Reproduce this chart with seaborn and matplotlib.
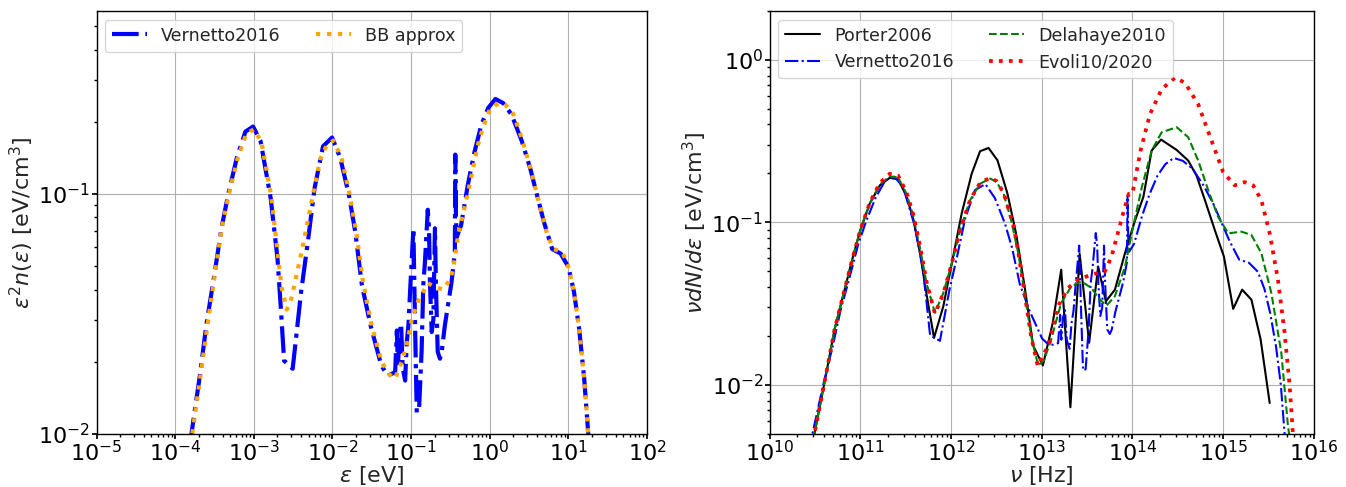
import numpy as np
import pandas as pd
import matplotlib
matplotlib.use("Agg")
import matplotlib.pyplot as plt
import seaborn as sns

# Planck constant [eV s], used to express photon energies as frequencies
H_EV_S = 4.135667696e-15

# ---- Interstellar radiation field, energy density vs photon energy ----
vernetto_eps = [1.12e-4, 1.61e-4, 2.06e-4, 2.51e-4, 3.05e-4, 3.91e-4, 4.77e-4, 6.10e-4,
                7.82e-4, 9.8e-4, 1.22e-3, 1.64e-3, 2.0e-3, 2.2e-3, 2.43e-3, 3.12e-3,
                3.44e-3, 3.99e-3, 4.86e-3, 5.93e-3, 7.59e-3, 9.9e-3, 1.26e-2, 1.62e-2,
                1.95e-2, 2.37e-2, 3.05e-2, 4.18e-2, 5.05e-2, 0.0627, 0.066, 0.068,
                0.071, 0.0747, 0.078, 0.084, 0.088, 0.0925, 0.097, 0.107, 0.112, 0.118,
                0.126, 0.136, 0.143, 0.150, 0.163, 0.169, 0.174, 0.183, 0.192, 0.201,
                0.207, 0.218, 0.233, 0.245, 0.269, 0.327, 0.360, 0.365, 0.372, 0.380,
                0.432, 0.526, 0.641, 0.782, 0.953, 1.18, 1.49, 1.90, 2.56, 3.27, 3.99,
                4.86, 6.22, 7.96, 10.0, 11.8, 13.7, 15.9, 17.9, 20.0]
vernetto_val = [0.0040, 0.0100, 0.0175, 0.029, 0.043, 0.073, 0.101, 0.142,
                0.182, 0.191, 0.166, 0.096, 0.054, 0.034, 0.0202, 0.0187,
                0.025, 0.039, 0.063, 0.106, 0.158, 0.172, 0.141, 0.099,
                0.0696, 0.0417, 0.0284, 0.0193, 0.0175, 0.0181, 0.027, 0.019,
                0.026, 0.0288, 0.019, 0.0167, 0.024, 0.0284, 0.039, 0.072, 0.030, 0.0123,
                0.0125, 0.022, 0.042, 0.052, 0.086, 0.072, 0.042, 0.0266, 0.030, 0.072,
                0.042, 0.022, 0.0206, 0.022, 0.0284, 0.043, 0.057, 0.146, 0.079, 0.066,
                0.074, 0.109, 0.150, 0.194, 0.228, 0.249, 0.239, 0.214, 0.166, 0.128, 0.099,
                0.077, 0.059, 0.0565, 0.0497, 0.039, 0.0275, 0.017, 0.010, 0.0045]

bb_eps = [1.12e-4, 1.65e-4, 2.1e-4, 2.6e-4, 3.1e-4, 3.9e-4, 4.8e-4, 6.2e-4, 8.0e-4,
          1.0e-3, 1.25e-3, 1.65e-3, 2.0e-3, 2.25e-3, 2.63e-3, 2.9e-3, 3.5e-3, 4.3e-3,
          5.5e-3, 7.0e-3, 8.5e-3, 1.03e-2, 1.3e-2, 1.65e-2, 2.0e-2, 2.45e-2, 3.1e-2,
          4.2e-2, 5.2e-2, 6.26e-2, 7.6e-2, 8.8e-2, 0.102, 0.124, 0.163, 0.201, 0.256,
          0.312, 0.344, 0.397, 0.532, 0.711, 0.817, 1.0, 1.32, 1.58, 2.0, 2.57, 3.3,
          4.0, 5.37, 6.53, 8.38, 10.0, 11.8, 13.7, 15.9, 17.9, 20.0]
bb_val = [0.0040, 0.0100, 0.0175, 0.029, 0.043, 0.072, 0.099, 0.140, 0.178,
          0.186, 0.165, 0.100, 0.058, 0.041, 0.033, 0.035, 0.046, 0.063,
          0.095, 0.140, 0.160, 0.167, 0.142, 0.100, 0.070, 0.043, 0.029,
          0.020, 0.0178, 0.0170, 0.020, 0.0234, 0.030, 0.036, 0.0425, 0.041, 0.040,
          0.044, 0.049, 0.0676, 0.1026, 0.161, 0.188, 0.225, 0.240, 0.236, 0.215, 0.170, 0.128,
          0.099, 0.068, 0.0589, 0.0574, 0.0497, 0.039, 0.0275, 0.017, 0.010, 0.0045]

# ---- Models compared as a function of frequency ----
porter_nu = [2.82e10, 3.12e10, 4.03e10, 5.20e10, 6.71e10, 8.30e10, 1.0e11, 1.27e11,
             1.64e11, 2.11e11, 2.61e11, 3.23e11, 3.83e11, 4.54e11, 5.38e11, 6.49e11,
             8.22e11, 1.02e12, 1.31e12, 1.69e12, 2.09e12, 2.59e12, 3.25e12, 4.18e12,
             5.20e12, 6.46e12, 8.04e12, 1.03e13, 1.32e13, 1.64e13, 2.07e13, 2.62e13,
             3.33e13, 4.19e13, 5.09e13, 6.41e13, 8.67e13, 1.07e14, 1.32e14, 1.63e14,
             2.07e14, 3.07e14, 4.12e14, 5.09e14, 6.30e14, 8.09e14, 1.02e15, 1.29e15,
             1.62e15, 2.05e15, 2.59e15, 3.26e15]
porter_val = [0.0040, 0.00502, 0.0104, 0.022, 0.0386, 0.0617, 0.0898, 0.1306,
              0.169, 0.188, 0.184, 0.145, 0.105, 0.065, 0.036, 0.0195,
              0.0305, 0.056, 0.1135, 0.1995, 0.274, 0.287, 0.241, 0.151,
              0.086, 0.0407, 0.0175, 0.0132, 0.024, 0.0512, 0.0073, 0.064,
              0.0182, 0.0536, 0.0327, 0.0386, 0.071, 0.103, 0.1435, 0.277,
              0.323, 0.279, 0.240, 0.194, 0.137, 0.0898, 0.0617, 0.0294,
              0.0386, 0.0335, 0.0191, 0.00776]

delahaye_nu = [2.82e10, 3.12e10, 4.03e10, 5.20e10, 6.71e10, 8.30e10, 1.0e11, 1.27e11,
               1.64e11, 2.11e11, 2.61e11, 3.23e11, 3.83e11, 4.54e11, 5.38e11, 6.65e11,
               8.22e11, 1.02e12, 1.26e12, 1.62e12, 2.09e12, 2.70e12, 3.16e12, 3.80e12,
               4.57e12, 5.50e12, 6.46e12, 7.62e12, 9.12e12, 1.06e13, 1.27e13, 1.64e13,
               2.12e13, 2.74e13, 3.53e13, 4.38e13, 5.19e13, 6.41e13, 8.30e13, 1.0e14,
               1.27e14, 1.63e14, 2.10e14, 3.07e14, 4.12e14, 5.31e14, 6.84e14, 8.81e14,
               1.14e15, 1.59e15, 2.05e15, 2.64e15, 3.40e15, 4.38e15, 5.18e15, 5.62e15]
delahaye_val = [0.0040, 0.00502, 0.0104, 0.022, 0.0386, 0.0617, 0.0898, 0.131,
                0.171, 0.192, 0.189, 0.150, 0.110, 0.070, 0.042, 0.0278,
                0.0368, 0.056, 0.0898, 0.137, 0.173, 0.186, 0.178, 0.150,
                0.105, 0.065, 0.037, 0.0202, 0.0132, 0.0142, 0.0191, 0.032,
                0.0404, 0.0434, 0.0395, 0.0335, 0.0308, 0.0352, 0.0536, 0.0898,
                0.165, 0.277, 0.358, 0.385, 0.334, 0.240, 0.158, 0.108,
                0.0857, 0.0877, 0.0837, 0.0647, 0.0368, 0.0158, 0.00565, 0.0040]

evoli_nu = [2.82e10, 3.12e10, 4.03e10, 5.20e10, 6.71e10, 8.30e10, 1.0e11, 1.27e11,
            1.64e11, 2.11e11, 2.61e11, 3.23e11, 3.83e11, 4.54e11, 5.38e11, 6.65e11,
            8.22e11, 1.02e12, 1.26e12, 1.62e12, 2.09e12, 2.70e12, 3.16e12, 3.80e12,
            4.90e12, 5.50e12, 6.46e12, 7.62e12, 9.04e12, 1.22e13, 1.51e13, 1.95e13,
            2.51e13, 3.53e13, 4.97e13, 5.89e13, 7.94e13, 9.12e13, 1.0e14, 1.23e14,
            1.56e14, 2.10e14, 2.94e14, 3.79e14, 5.31e14, 7.45e14, 1.0e15, 1.34e15,
            1.73e15, 2.14e15, 2.64e15, 3.26e15, 4.02e15, 4.76e15, 5.41e15, 5.87e15, 6.17e15]
evoli_val = [0.0040, 0.00502, 0.0104, 0.022, 0.0386, 0.0617, 0.0898, 0.132,
             0.175, 0.199, 0.194, 0.153, 0.112, 0.072, 0.043, 0.0275,
             0.0365, 0.056, 0.0898, 0.137, 0.175, 0.188, 0.180, 0.152,
             0.095, 0.066, 0.037, 0.020, 0.0131, 0.0182, 0.0305, 0.0395,
             0.0445, 0.0477, 0.050, 0.0617, 0.115, 0.15, 0.15, 0.277,
             0.463, 0.659, 0.776, 0.723, 0.533, 0.318, 0.204, 0.169,
             0.177, 0.169, 0.137, 0.0857, 0.0445, 0.021, 0.0099, 0.0051, 0.0040]

# Vernetto spectrum re-expressed in frequency
vernetto_nu = list(np.asarray(vernetto_eps) / H_EV_S)

sns.set_theme(style="ticks", rc={
    "axes.edgecolor": "black",
    "axes.linewidth": 1.0,
    "xtick.color": "black",
    "ytick.color": "black",
    "grid.color": "#b0b0b0",
    "grid.linewidth": 0.8,
})
plt.rcParams["font.family"] = ["DejaVu Sans"]
plt.rcParams["mathtext.fontset"] = "dejavusans"

fig = plt.figure(figsize=(13.46, 4.87), dpi=100)
ax1 = fig.add_axes([0.0717, 0.1088, 0.4090, 0.8690])
ax2 = fig.add_axes([0.5718, 0.1088, 0.4043, 0.8690])

TICK_FS = 16
LABEL_FS = 16
LEG_FS = 12.6

# Left panel: energy density per log energy
sns.lineplot(x=vernetto_eps, y=vernetto_val, ax=ax1, estimator=None, sort=False,
             color="blue", linestyle="-.", linewidth=3, label="Vernetto2016")
sns.lineplot(x=bb_eps, y=bb_val, ax=ax1, estimator=None, sort=False,
             color="orange", linestyle=":", linewidth=3, label="BB approx")
ax1.set_xscale("log")
ax1.set_yscale("log")
ax1.set_xlim(1e-5, 1e2)
ax1.set_ylim(1e-2, 0.58)
ax1.set_xlabel(r"$\varepsilon$ [eV]", fontsize=LABEL_FS, labelpad=-1)
ax1.set_ylabel(r"$\varepsilon^2 n(\varepsilon)$ [eV/cm$^3$]", fontsize=LABEL_FS, labelpad=2)
ax1.legend(loc="upper left", ncol=2, fontsize=LEG_FS)

# Right panel: model comparison in frequency
sns.lineplot(x=porter_nu, y=porter_val, ax=ax2, estimator=None, sort=False,
             color="black", linestyle="-", linewidth=1.5, label="Porter2006")
sns.lineplot(x=vernetto_nu, y=vernetto_val, ax=ax2, estimator=None, sort=False,
             color="blue", linestyle="-.", linewidth=1.5, label="Vernetto2016")
sns.lineplot(x=delahaye_nu, y=delahaye_val, ax=ax2, estimator=None, sort=False,
             color="green", linestyle="--", linewidth=1.5, label="Delahaye2010")
sns.lineplot(x=evoli_nu, y=evoli_val, ax=ax2, estimator=None, sort=False,
             color="red", linestyle=":", linewidth=2.7, label="Evoli10/2020")
ax2.set_xscale("log")
ax2.set_yscale("log")
ax2.set_xlim(1e10, 1e16)
ax2.set_ylim(5e-3, 2.0)
ax2.set_xlabel(r"$\nu$ [Hz]", fontsize=LABEL_FS, labelpad=-1)
ax2.set_ylabel(r"$\nu dN/d\varepsilon$ [eV/cm$^3$]", fontsize=LABEL_FS, labelpad=2)
ax2.legend(loc="upper left", ncol=2, fontsize=LEG_FS)

for ax in (ax1, ax2):
    ax.grid(True, which="major")
    ax.tick_params(axis="both", which="major", labelsize=TICK_FS, length=3.5, pad=1)
    ax.tick_params(axis="both", which="minor", length=2)
    for s in ax.spines.values():
        s.set_visible(True)

fig.savefig("out.png", dpi=100)
